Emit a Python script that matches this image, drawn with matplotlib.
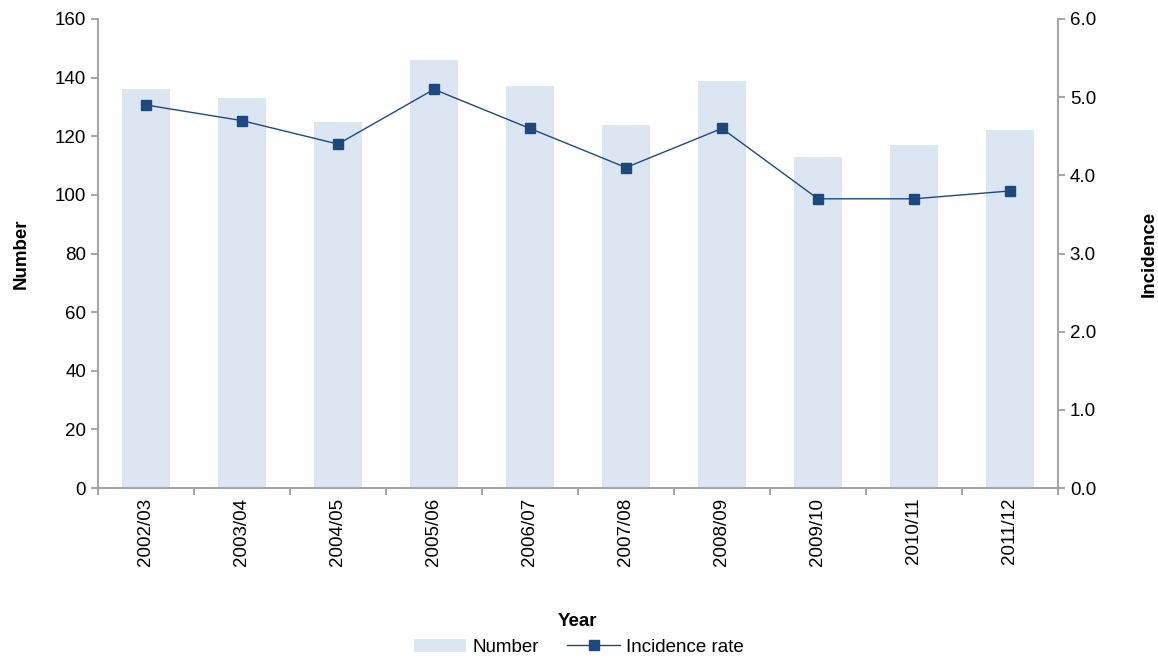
import numpy as np
import matplotlib
matplotlib.use('Agg')
import matplotlib.pyplot as plt
from matplotlib.ticker import FixedLocator, NullFormatter

plt.rcParams['font.family'] = ['Liberation Sans', 'DejaVu Sans']

years = ['2002/03', '2003/04', '2004/05', '2005/06', '2006/07',
         '2007/08', '2008/09', '2009/10', '2010/11', '2011/12']
numbers = [136, 133, 125, 146, 137, 124, 139, 113, 117, 122]
incidence = [4.9, 4.7, 4.4, 5.1, 4.6, 4.1, 4.6, 3.7, 3.7, 3.8]

bar_color = '#dce6f2'
line_color = '#1f497d'
axis_color = '#a6a6a6'
fs = 13.5

fig = plt.figure(figsize=(11.58, 6.62), dpi=100)
ax = fig.add_axes([0.0846, 0.2628, 0.8290, 0.7085])
ax2 = ax.twinx()

x = np.arange(len(years))
bars = ax.bar(x, numbers, width=0.5, color=bar_color, label='Number', zorder=1)
line, = ax2.plot(x, incidence, color=line_color, lw=1, marker='s', markersize=7,
                 label='Incidence rate')

ax.set_xlim(-0.5, len(years) - 0.5)
ax.set_ylim(0, 160)
ax.set_yticks(np.arange(0, 161, 20))
ax2.set_ylim(0, 6)
ax2.set_yticks(np.arange(0, 6.1, 1))
ax2.set_yticklabels([f'{v:.1f}' for v in np.arange(0, 6.1, 1)])

ax.set_xticks(x)
ax.set_xticklabels(years, rotation=90)
ax.tick_params(axis='x', which='major', length=0, pad=7)
ax.xaxis.set_minor_locator(FixedLocator(np.arange(-0.5, len(years), 1)))
ax.xaxis.set_minor_formatter(NullFormatter())
ax.tick_params(axis='x', which='minor', length=5, color=axis_color, width=1.5)

for a in (ax, ax2):
    a.tick_params(axis='y', length=5, color=axis_color, width=1.5, labelsize=fs)
    a.tick_params(axis='x', labelsize=fs)
    a.spines['top'].set_visible(False)
    for s in ('left', 'right', 'bottom'):
        a.spines[s].set_color(axis_color)
        a.spines[s].set_linewidth(1.5)
ax.spines['right'].set_visible(False)
ax2.spines['left'].set_visible(False)
ax2.spines['bottom'].set_visible(False)

ax.set_ylabel('Number', fontsize=fs, fontweight='bold', labelpad=18)
ax2.set_ylabel('Incidence', fontsize=fs, fontweight='bold', labelpad=32)
ax.set_xlabel('Year', fontsize=fs, fontweight='bold', labelpad=34)

fig.legend([bars, line], ['Number', 'Incidence rate'], loc='center',
           bbox_to_anchor=(0.5, 0.022), ncol=2, frameon=False, fontsize=fs,
           handlelength=2.8, columnspacing=1.5, handletextpad=0.35)

fig.savefig('out.png', dpi=100)
